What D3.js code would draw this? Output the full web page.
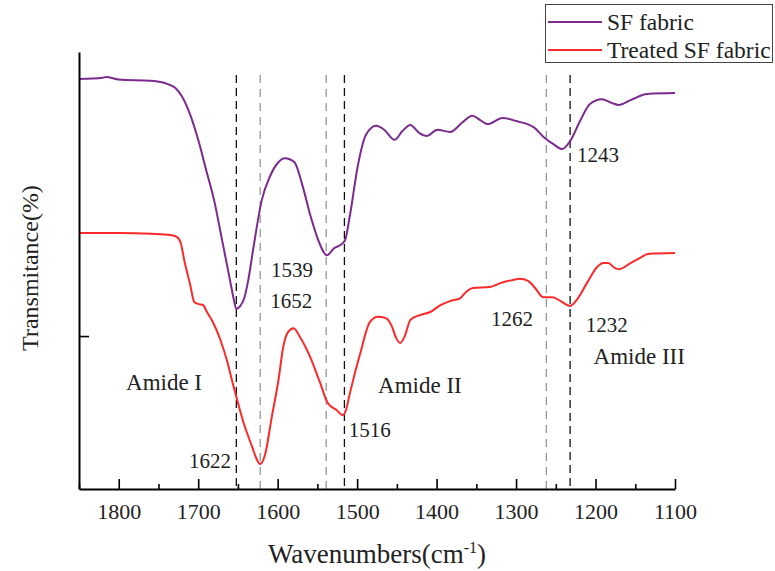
<!DOCTYPE html>
<html>
<head>
<meta charset="utf-8">
<script src="https://cdn.jsdelivr.net/npm/d3@7"></script>
<style>
  body { margin: 0; background: #fff; }
  text { font-family: "Liberation Serif", "Times New Roman", serif; fill: #222; }
</style>
</head>
<body>
<svg id="chart" width="775" height="571"></svg>
<script>
"use strict";

// FTIR spectra, wavenumber (cm-1) vs transmittance (arbitrary units 0-100)
const sfWave = [1850, 1820, 1816, 1800, 1759, 1739, 1729, 1720, 1710, 1700, 1690, 1680, 1670, 1660, 1655, 1652,
  1647, 1642, 1637, 1630, 1620, 1610, 1600, 1591, 1579, 1569, 1559, 1549, 1538, 1529, 1519, 1515, 1509, 1499,
  1489, 1476, 1466, 1453, 1443, 1433, 1422, 1412, 1399, 1383, 1368, 1355, 1345, 1336, 1317, 1300, 1278, 1265,
  1253, 1242, 1232, 1219, 1207, 1192, 1179, 1171, 1156, 1135, 1100];
const sfTrans = [93.8, 94.1, 94.3, 93.7, 93.4, 92.7, 91.8, 89.7, 85.6, 79.9, 73.0, 66.1, 57.0, 47.8, 43.2, 41.2,
  41.9, 43.7, 47.8, 55.8, 66.1, 71.4, 74.6, 75.7, 74.8, 69.6, 62.7, 57.0, 53.5, 55.1, 56.1, 57.0, 62.7, 74.1,
  81.0, 83.1, 82.2, 79.9, 81.9, 83.3, 81.5, 80.8, 82.2, 81.7, 83.8, 85.4, 84.4, 83.5, 84.9, 84.2, 82.8, 80.5,
  78.9, 77.8, 79.6, 84.4, 88.1, 89.2, 88.3, 87.9, 89.0, 90.4, 90.6];

const treatedWave = [1850, 1800, 1759, 1735, 1727, 1722, 1717, 1710, 1705, 1699, 1694, 1689, 1681, 1672, 1664,
  1656, 1651, 1644, 1632, 1627, 1622, 1616, 1607, 1599, 1593, 1587, 1580, 1572, 1559, 1547, 1537, 1526,
  1518, 1514, 1509, 1496, 1484, 1474, 1464, 1457, 1451, 1446, 1440, 1433, 1421, 1408, 1395, 1383, 1370,
  1363, 1354, 1333, 1320, 1305, 1295, 1285, 1276, 1266, 1254, 1244, 1232, 1222, 1210, 1198, 1190, 1184, 1176,
  1170, 1156, 1144, 1134, 1100];
const treatedTrans = [58.6, 58.6, 58.4, 58.1, 57.7, 56.3, 51.9, 46.7, 42.8, 42.3, 42.1, 40.5, 38.0, 34.1, 29.5,
  23.8, 20.4, 15.8, 9.6, 7.1, 5.7, 7.8, 16.9, 24.9, 32.5, 35.9, 36.8, 34.8, 30.2, 24.5, 19.7, 18.1,
  16.9, 18.1, 22.0, 31.1, 38.2, 39.4, 39.1, 37.5, 34.6, 33.4, 35.0, 38.7, 39.8, 40.5, 42.1, 43.0, 43.7,
  45.1, 46.0, 46.2, 47.1, 47.8, 48.1, 47.6, 46.0, 43.9, 43.9, 43.0, 41.9, 43.7, 47.4, 50.8, 51.7, 51.7, 50.6,
  50.3, 51.7, 52.9, 53.8, 54.0];

const seriesNames = ["SF fabric", "Treated SF fabric"];
const seriesColors = ["#7b2a8e", "#fa2a2a"];

const xTicks = [1800, 1700, 1600, 1500, 1400, 1300, 1200, 1100];
const xMinorTicks = [1850, 1750, 1650, 1550, 1450, 1350, 1250, 1150];

// peak positions marked with dashed guides; dark = bold dash
const markWaves = [1652, 1622, 1539, 1516, 1262, 1232];
const markDark = [true, false, false, true, false, true];

// annotation labels: text, wavenumber, transmittance (label centre)
const noteText = ["1539", "1652", "1622", "1516", "1262", "1243", "1232", "Amide I", "Amide II", "Amide III"];
const noteWave = [1582, 1583, 1685, 1484, 1305, 1197, 1186, 1743, 1421, 1145];
const noteTrans = [50.1, 43.2, 6.6, 13.5, 38.9, 76.4, 37.5, 24.5, 23.8, 30.4];
const noteSize = [21, 21, 21, 21, 21, 21, 21, 23, 23, 23];

const svg = d3.select("#chart");

const x = d3.scaleLinear().domain([1850, 1100]).range([79, 675]);
const y = d3.scaleLinear().domain([0, 100]).range([489, 52]);

// dashed guides
svg.append("g")
  .selectAll("line")
  .data(markWaves)
  .join("line")
    .attr("x1", d => x(d))
    .attr("x2", d => x(d))
    .attr("y1", 75)
    .attr("y2", y(0))
    .attr("stroke", (d, i) => markDark[i] ? "#111" : "#666")
    .attr("stroke-width", (d, i) => markDark[i] ? 1.3 : 0.9)
    .attr("stroke-dasharray", (d, i) => markDark[i] ? "8,5" : "8,6");

const line = d3.line()
  .x(d => x(d[0]))
  .y(d => y(d[1]))
  .curve(d3.curveMonotoneX);

const series = [
  d3.zip(sfWave, sfTrans),
  d3.zip(treatedWave, treatedTrans)
];

svg.append("g")
  .selectAll("path")
  .data(series)
  .join("path")
    .attr("d", line)
    .attr("fill", "none")
    .attr("stroke", (d, i) => seriesColors[i])
    .attr("stroke-width", 2)
    .attr("stroke-linejoin", "round");

// axes
const xAxis = svg.append("g")
  .attr("transform", `translate(0,${y(0)})`)
  .call(d3.axisBottom(x).tickValues(xTicks).tickSize(-10).tickSizeOuter(0).tickPadding(14)
    .tickFormat(d3.format("d")));
xAxis.select(".domain").attr("stroke-width", 2);
xAxis.selectAll(".tick line").attr("stroke-width", 1.6);
xAxis.selectAll(".tick text")
  .style("font-family", "'Liberation Serif', serif")
  .attr("font-size", 22)
  .attr("fill", "#222");

svg.append("g")
  .attr("transform", `translate(0,${y(0)})`)
  .call(d3.axisBottom(x).tickValues(xMinorTicks).tickSize(-5).tickFormat(""))
  .call(g => g.select(".domain").remove())
  .selectAll(".tick line").attr("stroke-width", 1.6);

const yAxis = svg.append("g")
  .attr("transform", `translate(${x(1850)},0)`)
  .call(d3.axisLeft(y).tickValues([35]).tickSize(-10).tickSizeOuter(0).tickFormat(""));
yAxis.select(".domain").attr("stroke-width", 2);
yAxis.selectAll(".tick line").attr("stroke-width", 1.6);

// axis titles
const xTitle = svg.append("text")
  .attr("x", 377)
  .attr("y", 563)
  .attr("text-anchor", "middle")
  .attr("font-size", 27);
xTitle.append("tspan").text("Wavenumbers(cm");
xTitle.append("tspan").attr("dy", -10).attr("font-size", 16).text("-1");
xTitle.append("tspan").attr("dy", 10).text(")");

svg.append("text")
  .attr("transform", "translate(38,268) rotate(-90)")
  .attr("text-anchor", "middle")
  .attr("font-size", 24)
  .text("Transmitance(%)");

// annotations
svg.append("g")
  .selectAll("text")
  .data(noteText)
  .join("text")
    .attr("x", (d, i) => x(noteWave[i]))
    .attr("y", (d, i) => y(noteTrans[i]))
    .attr("text-anchor", "middle")
    .attr("dy", "0.35em")
    .attr("font-size", (d, i) => noteSize[i])
    .text(d => d);

// legend
const legend = svg.append("g");
legend.append("rect")
  .attr("x", 545.5)
  .attr("y", 4.5)
  .attr("width", 227)
  .attr("height", 58)
  .attr("fill", "#fff")
  .attr("stroke", "#444")
  .attr("stroke-width", 1);

seriesNames.forEach((name, i) => {
  const ly = 22 + i * 28;
  legend.append("line")
    .attr("x1", 548)
    .attr("x2", 602)
    .attr("y1", ly)
    .attr("y2", ly)
    .attr("stroke", seriesColors[i])
    .attr("stroke-width", 2);
  legend.append("text")
    .attr("x", 607)
    .attr("y", ly)
    .attr("dy", "0.35em")
    .attr("font-size", 23.5)
    .text(name);
});
</script>
</body>
</html>
